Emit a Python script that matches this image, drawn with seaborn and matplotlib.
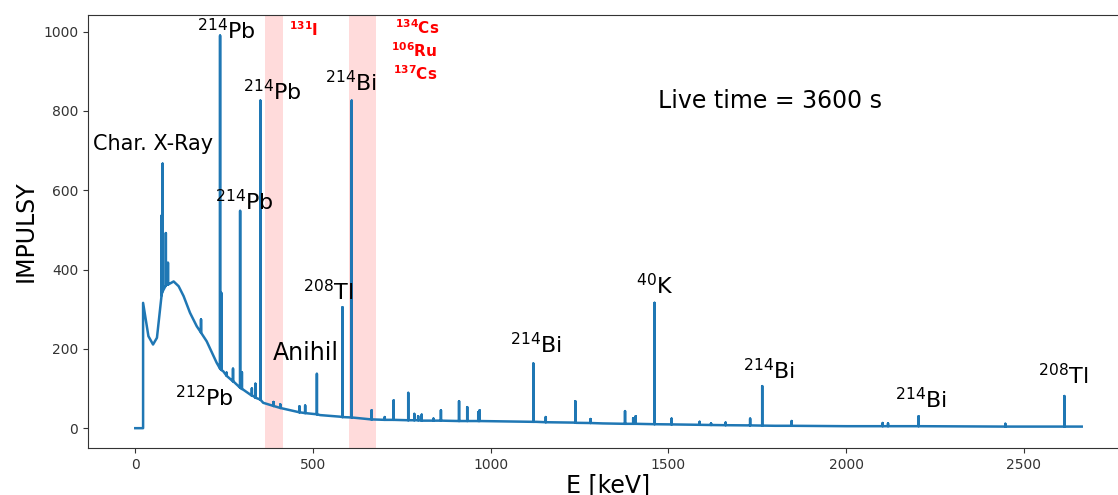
import numpy as np
import pandas as pd
import matplotlib
matplotlib.use("Agg")
import matplotlib.pyplot as plt
import seaborn as sns

# Background continuum of the gamma spectrum (energy in keV, counts)
continuum_kev = [0, 22, 22, 28, 37, 50, 61, 75, 89, 108, 122, 136, 154, 173,
                 201, 229, 248, 276, 304, 332, 360, 407, 463, 520, 576, 669,
                 760, 850, 941, 1128, 1241, 1315, 1456, 1587, 1800, 2000,
                 2200, 2450, 2663]
continuum_counts = [0, 0, 316, 282, 232, 211, 228, 340, 362, 370, 358, 333,
                    291, 257, 219, 165, 143, 118, 97, 81, 64, 51, 40, 33, 29,
                    22, 20, 19, 18, 16, 13.5, 12, 10, 8.5, 6, 5, 5, 4, 4]

# Full-energy peaks: position, peak top and the continuum level below it
peak_kev = [74, 77, 86, 92, 185, 238.6, 242, 257, 275, 295, 300, 328, 338,
            352, 389, 408, 462, 478, 511, 583, 609, 665, 702, 727, 768, 785,
            796, 806, 839, 860, 911, 934, 965, 969, 1120, 1155, 1238, 1281,
            1378, 1401, 1408, 1461, 1509, 1588, 1620, 1661, 1730, 1764, 1847,
            2103, 2118, 2204, 2448, 2614]
peak_top = [536, 667, 492, 417, 274, 990, 341, 140, 150, 548, 141, 100, 112,
            826, 66, 60, 55, 57, 137, 305, 826, 45, 28, 70, 89, 36,
            30, 34, 24, 45, 68, 53, 40, 45, 163, 28, 68, 23,
            43, 25, 30, 316, 24, 16, 12, 14, 24, 106, 18,
            13, 12, 30, 11, 81]
peak_base = [335, 345, 360, 362, 241, 150, 147, 132, 118, 102, 99, 82, 77,
             72, 56, 51, 40, 38, 35, 28, 27, 22, 21, 21, 20, 20,
             20, 19, 19, 19, 18, 18, 18, 18, 16, 15, 14, 13,
             11, 11, 11, 10, 9.5, 8.5, 8, 7.5, 7, 6.5, 6,
             5, 5, 5, 4, 4]

# Nuclide labels
label_texts = [r"$^{214}$Pb", r"$^{214}$Pb", r"$^{214}$Pb", r"$^{214}$Bi",
               r"$^{212}$Pb", r"$^{208}$Tl", r"$^{214}$Bi", r"$^{40}$K",
               r"$^{214}$Bi", r"$^{214}$Bi", r"$^{208}$Tl"]
label_x = [173, 302, 225, 535, 112, 473, 1055, 1409, 1709, 2137, 2539]
label_y = [981, 828, 549, 851, 55, 322, 190, 338, 123, 51, 110]

# Fission/activation nuclides marked in red
red_texts = [r"$^{\mathbf{131}}$I", r"$^{\mathbf{134}}$Cs",
             r"$^{\mathbf{106}}$Ru", r"$^{\mathbf{137}}$Cs"]
red_x = [432, 731, 720, 724]
red_y = [989, 993, 935, 878]

# Energy windows of the red-marked nuclides
band_lo = [364, 600]
band_hi = [416, 678]

# Assemble the line: continuum vertices plus a spike for every peak
verts = [(e, i, c) for i, (e, c) in enumerate(zip(continuum_kev, continuum_counts))]
for e, top, base in zip(peak_kev, peak_top, peak_base):
    verts += [(e, 0, base), (e, 1, top), (e, 2, base)]
verts.sort(key=lambda v: (v[0], v[1]))
spectrum = pd.DataFrame({"E": [v[0] for v in verts],
                         "counts": [v[2] for v in verts]})

fig = plt.figure(figsize=(11.18, 4.95), dpi=100)
ax = fig.add_axes([88 / 1118, 47 / 495, 1041 / 1118, 433 / 495])

for lo, hi in zip(band_lo, band_hi):
    ax.axvspan(lo, hi, color="red", alpha=0.14, lw=0, zorder=0)

sns.lineplot(data=spectrum, x="E", y="counts", sort=False, estimator=None,
             color="#1f77b4", lw=1.8, ax=ax, zorder=2)

for t, x, y in zip(label_texts, label_x, label_y):
    ax.text(x, y, t, fontsize=16, ha="left", va="baseline", zorder=3)
for t, x, y in zip(red_texts, red_x, red_y):
    ax.text(x, y, t, fontsize=11, color="red", fontweight="bold",
            ha="left", va="baseline", zorder=3)

ax.text(-119, 702, "Char. X-Ray", fontsize=15, ha="left", va="baseline")
ax.text(388, 171, "Anihil", fontsize=17, ha="left", va="baseline")
ax.text(1470, 808, "Live time = 3600 s", fontsize=17, ha="left", va="baseline")

ax.set_xlim(-133, 2796)
ax.set_ylim(-50, 1042)
ax.set_xticks([0, 500, 1000, 1500, 2000, 2500])
ax.set_yticks([0, 200, 400, 600, 800, 1000])
ax.tick_params(labelsize=10, colors="#333333")
for s in ax.spines.values():
    s.set_color("#333333")
ax.set_xlabel("E [keV]", fontsize=17, labelpad=1)
ax.set_ylabel("IMPULSY", fontsize=17)

fig.savefig("out.png", dpi=100)
